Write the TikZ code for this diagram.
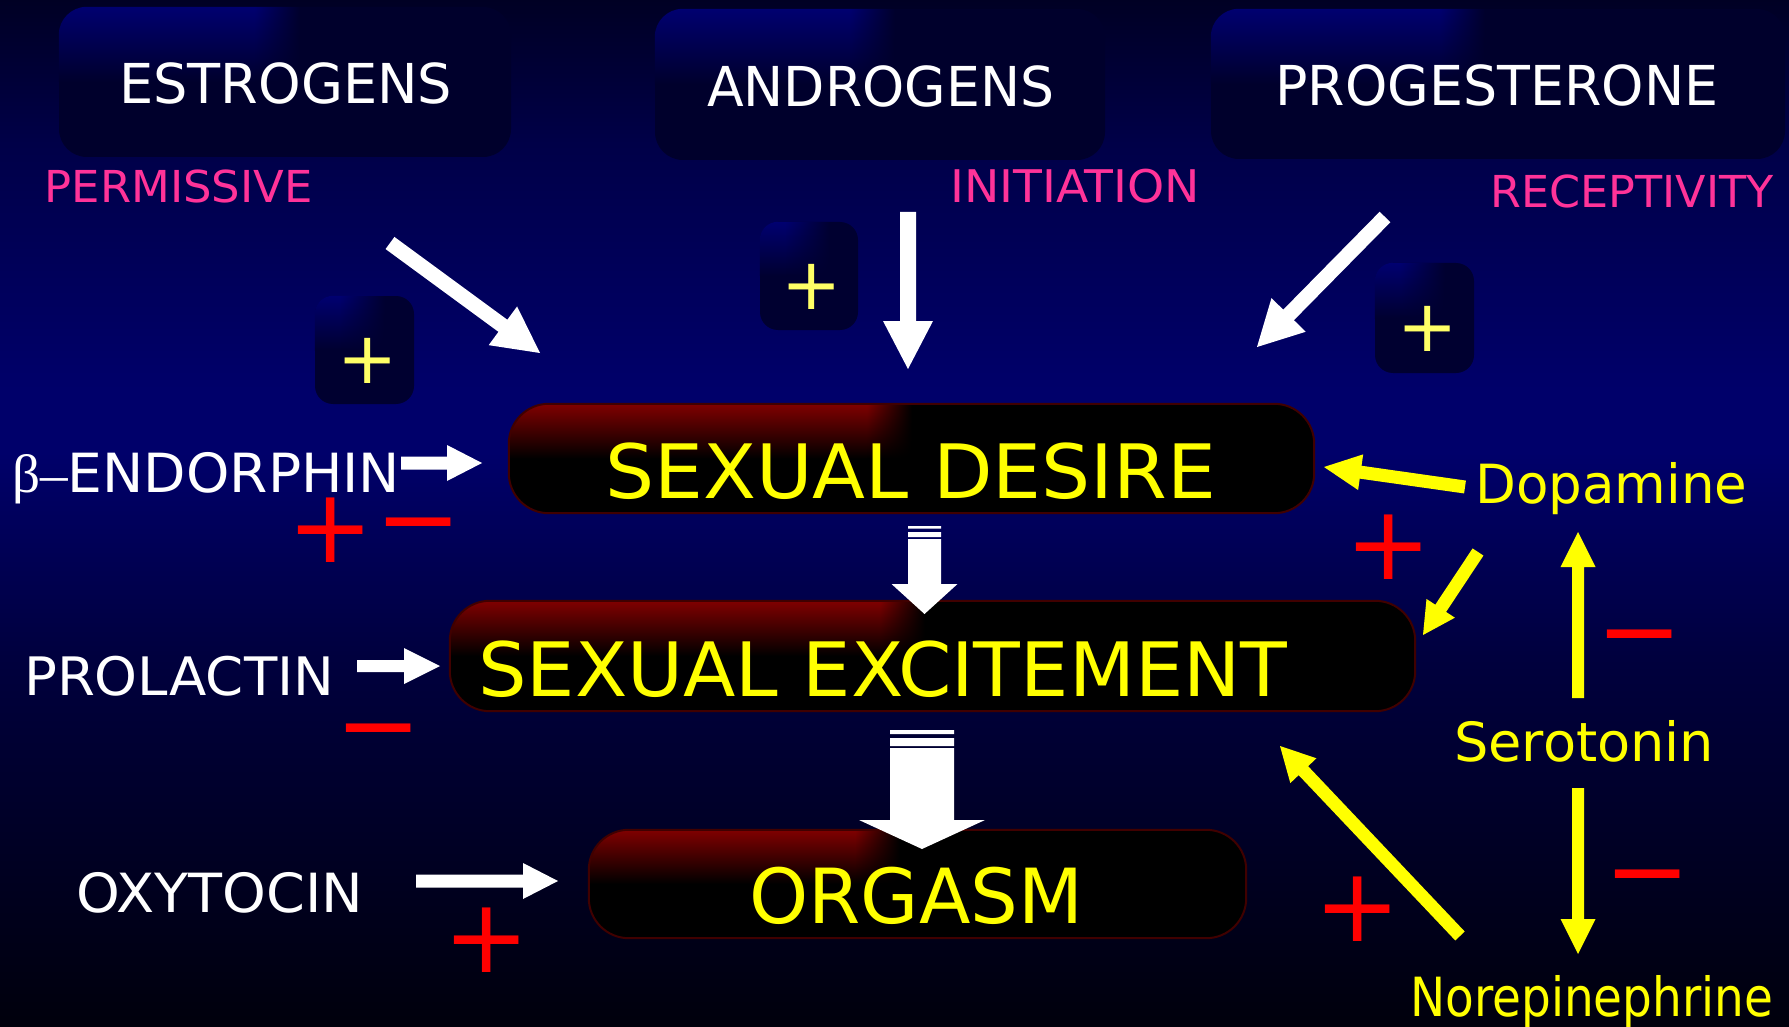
\documentclass[tikz,border=0pt]{standalone}
\usepackage{fontspec}
\usepackage{graphicx}
\setmainfont{DejaVu Sans}
\newfontfamily\serifgr{Liberation Serif}
\usetikzlibrary{calc,fadings}

\definecolor{bgA}{HTML}{00000C}
\definecolor{bgB}{HTML}{00003E}
\definecolor{bgC}{HTML}{00006A}
\definecolor{bgD}{HTML}{000048}
\definecolor{bgE}{HTML}{000024}
\definecolor{pinkt}{HTML}{FF3399}
\definecolor{yel}{HTML}{FFFF00}
\definecolor{lyel}{HTML}{FFFF66}
\definecolor{redsign}{HTML}{FF0000}
\definecolor{glowred}{HTML}{800000}
\definecolor{boxedge}{HTML}{400000}
\definecolor{topglow}{HTML}{000070}
\definecolor{topbase}{HTML}{00002C}
\definecolor{plusbase}{HTML}{000030}

\pgfdeclareverticalshading{bgshade}{100bp}{color(0bp)=(bgA); color(25bp)=(bgA); color(43bp)=(bgB); color(53bp)=(bgC); color(56bp)=(bgC); color(68bp)=(bgD); color(75bp)=(bgE); color(100bp)=(bgE)}
\tikzfading[name=fadeR, left color=transparent!0, right color=transparent!100]

\newcommand\fitw[2]{\resizebox{#1pt}{\height}{#2}}
\newcommand\fsz[1]{\fontsize{#1}{#1}\selectfont}
% glow: node, fade x, glow colour, base colour, radius
\newcommand\glowin[5]{%
  \begin{scope}
    \clip[rounded corners=#5] (#1.north west) rectangle (#1.south east);
    \shade[top color=#3, bottom color=#4] (#1.north west) rectangle (#2,0 |- #1.west);
    \shade[top color=#3, bottom color=#4, path fading=fadeR] (#2,0 |- #1.north) rectangle ({#2+45},0 |- #1.west);
  \end{scope}}
% block arrow: style, tail, tip, shaft half width, head half width, head length
\newcommand\blockarrow[6]{%
  \coordinate (babase) at ($(#3)!#6pt!(#2)$);
  \fill[#1] ($(#2)!#4pt!90:(#3)$) -- ($(babase)!#4pt!-90:(#2)$) -- ($(babase)!#5pt!-90:(#2)$) -- (#3)
    -- ($(babase)!#5pt!90:(#2)$) -- ($(babase)!#4pt!90:(#2)$) -- ($(#2)!#4pt!-90:(#3)$) -- cycle;}

\tikzset{
  lbl/.style={inner sep=0pt, anchor=base west},
  wht/.style={lbl, text=white},
  pnk/.style={lbl, text=pinkt},
  ylw/.style={lbl, text=yel},
  sgn/.style={inner sep=0pt, anchor=base},
  redsgn/.style={sgn, text=redsign, font=\fsz{103}},
  ylwsgn/.style={sgn, text=lyel, font=\fsz{72}},
  hormbox/.style={fill=topbase, rounded corners=28pt, inner sep=0pt},
  plusbox/.style={fill=plusbase, rounded corners=18pt, inner sep=0pt},
  stagebox/.style={fill=black, rounded corners=40pt, inner sep=0pt},
  stageedge/.style={draw=boxedge, line width=2pt, rounded corners=40pt},
}

\begin{document}
\begin{tikzpicture}[x=1pt,y=-1pt]
\useasboundingbox (0,0) rectangle (1789,1027);
\shade[shading=bgshade] (0,0) rectangle (1789,1027);

% hormone boxes
\node[hormbox, minimum width=452, minimum height=150] (estbox) at (285,82) {};
\node[hormbox, minimum width=450, minimum height=151] (andbox) at (880,84.5) {};
\node[hormbox, minimum width=574, minimum height=150] (probox) at (1498,84) {};
\glowin{estbox}{255}{topglow}{topbase}{28}
\glowin{andbox}{850}{topglow}{topbase}{28}
\glowin{probox}{1440}{topglow}{topbase}{28}

% plus boxes
\node[plusbox, minimum width=99, minimum height=108] (pb1) at (364.5,350) {};
\node[plusbox, minimum width=98, minimum height=108] (pb2) at (809,276) {};
\node[plusbox, minimum width=99, minimum height=110] (pb3) at (1424.5,318) {};
\glowin{pb1}{340}{topglow}{plusbase}{18}
\glowin{pb2}{785}{topglow}{plusbase}{18}
\glowin{pb3}{1400}{topglow}{plusbase}{18}

% stage boxes
\node[stagebox, minimum width=805, minimum height=109] (desire) at (911.5,458.5) {};
\node[stagebox, minimum width=965, minimum height=110] (excite) at (932.5,656) {};
\node[stagebox, minimum width=657, minimum height=108] (orgasm) at (917.5,884) {};
\glowin{desire}{867}{glowred}{black}{40}
\glowin{excite}{880}{glowred}{black}{40}
\glowin{orgasm}{855}{glowred}{black}{40}
\draw[stageedge] (desire.north west) rectangle (desire.south east);
\draw[stageedge] (excite.north west) rectangle (excite.south east);
\draw[stageedge] (orgasm.north west) rectangle (orgasm.south east);

% texts
\node[wht, font=\fsz{55}] (estro) at (119,104) {\fitw{333}{ESTROGENS}};
\node[wht, font=\fsz{55}] (andro) at (707,107) {\fitw{347}{ANDROGENS}};
\node[wht, font=\fsz{55}] (proge) at (1275,106) {\fitw{443}{PROGESTERONE}};
\node[pnk, font=\fsz{44}] (perm) at (44.5,203) {\fitw{268}{PERMISSIVE}};
\node[pnk, font=\fsz{45}] (init) at (950,203) {\fitw{250}{INITIATION}};
\node[pnk, font=\fsz{44}] (recep) at (1490.5,208) {\fitw{283}{RECEPTIVITY}};
\node[wht, font=\fsz{54}] (endo) at (12,492) {\fitw{388}{{\serifgr\raisebox{0pt}[\height][0pt]{β}–}ENDORPHIN}};
\node[wht, font=\fsz{53}] (prl) at (24,695) {\fitw{310}{PROLACTIN}};
\node[wht, font=\fsz{54}] (oxy) at (76,912) {\fitw{287}{OXYTOCIN}};
\node[ylw, font=\fsz{75}] (tdes) at (605,498) {\fitw{611}{SEXUAL DESIRE}};
\node[ylw, font=\fsz{75}] (texc) at (478,696) {\fitw{809}{SEXUAL EXCITEMENT}};
\node[ylw, font=\fsz{76}] (torg) at (749,923) {\fitw{334}{ORGASM}};
\node[ylw, font=\fsz{54}] (dopa) at (1475,503) {\fitw{272}{Dopamine}};
\node[ylw, font=\fsz{54}] (sero) at (1454,761) {\fitw{260}{Serotonin}};
\node[ylw, font=\fsz{54}] (nore) at (1410,1016) {\fitw{363}{Norepinephrine}};

% signs
\node[ylwsgn] (yp1) at (368,383.5) {+};
\node[ylwsgn] (yp2) at (812,309.5) {+};
\node[ylwsgn] (yp3) at (1428,351) {+};
\node[redsgn] (rp1) at (330.5,562.5) {+};
\node[redsgn] (rm1) at (419,554.5) {−};
\node[redsgn] (rm2) at (379,760.5) {−};
\node[redsgn] (rp2) at (486.5,972.5) {+};
\node[redsgn] (rp3) at (1389,579.5) {+};
\node[redsgn] (rm3) at (1639.5,666.5) {−};
\node[redsgn] (rm4) at (1647.5,906.5) {−};
\node[redsgn] (rp4) at (1358,941.5) {+};

% arrow end points
\coordinate (estA) at (390,243);  \coordinate (estB) at (540,353);
\coordinate (andA) at (908,212);  \coordinate (andB) at (908,369);
\coordinate (proA) at (1385,217); \coordinate (proB) at (1257,347);
\coordinate (endA) at (401,463);  \coordinate (endB) at (482,463);
\coordinate (prlA) at (357,666);  \coordinate (prlB) at (440,666);
\coordinate (oxyA) at (416,881);  \coordinate (oxyB) at (558,881);
\coordinate (dopA) at (1465,487); \coordinate (dopB) at (1324,467);
\coordinate (dopC) at (1478,552); \coordinate (dopD) at (1423,635);
\coordinate (serA) at (1578,698); \coordinate (serB) at (1578,532);
\coordinate (serC) at (1578,788); \coordinate (serD) at (1578,954);
\coordinate (norA) at (1460,936); \coordinate (norB) at (1280,746);
\coordinate (deA) at (924.5,539); \coordinate (deB) at (924.5,614);
\coordinate (eoA) at (922,748);   \coordinate (eoB) at (922,849);

\blockarrow{white}{estA}{estB}{7.5}{24}{46}
\blockarrow{white}{andA}{andB}{8}{25}{48}
\blockarrow{white}{proA}{proB}{7.5}{24}{45}
\blockarrow{white}{endA}{endB}{6.5}{18}{35}
\blockarrow{white}{prlA}{prlB}{6}{18}{36}
\blockarrow{white}{oxyA}{oxyB}{6.5}{18}{35}
\blockarrow{yel}{dopA}{dopB}{6.5}{18}{37}
\blockarrow{yel}{dopC}{dopD}{6.5}{17}{32}
\blockarrow{yel}{serA}{serB}{6}{17.5}{35}
\blockarrow{yel}{serC}{serD}{6}{17.5}{35}
\blockarrow{yel}{norA}{norB}{6.5}{18}{34}

% striped stage arrows
\fill[white] (908,526) rectangle (941,528.5) (908,532) rectangle (941,537);
\blockarrow{white}{deA}{deB}{16.5}{33}{30}
\fill[white] (890,730) rectangle (954,734) (890,738) rectangle (954,746);
\blockarrow{white}{eoA}{eoB}{32}{63}{29}
\end{tikzpicture}
\end{document}
